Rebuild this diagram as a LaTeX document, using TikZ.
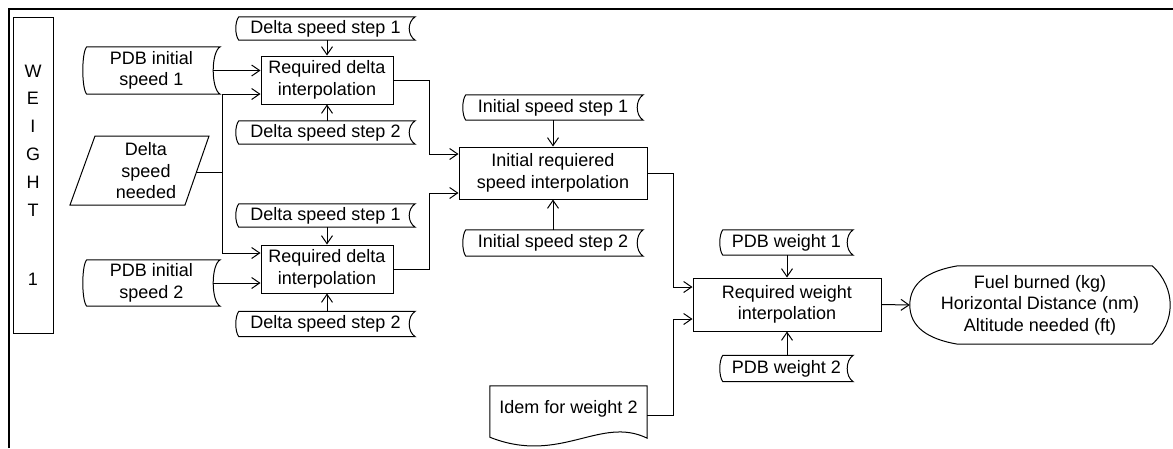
\documentclass[tikz,border=0pt]{standalone}
\usepackage{fontspec}
\setmainfont{Liberation Sans}
\usetikzlibrary{arrows.meta,calc}

% outline of a "stored data" shape round node #1, left bulge #2, right bulge #3
\newcommand\storedoutline[3]{%
  \draw[shapeline] ($(#1.north west)+(#2,0)$) -- (#1.north east)
    .. controls ($(#1.north east)+(-4*#3/3,5)$) and ($(#1.south east)+(-4*#3/3,-5)$) .. (#1.south east)
    -- ($(#1.south west)+(#2,0)$)
    .. controls ($(#1.south west)+(#2-4*#2/3,-5)$) and ($(#1.north west)+(#2-4*#2/3,5)$) .. ($(#1.north west)+(#2,0)$) -- cycle;}

\begin{document}
\begin{tikzpicture}[x=1pt,y=-1pt,
  txt/.style={font=\fontsize{18}{21.5}\selectfont, align=center, inner sep=0pt},
  procbox/.style={txt, draw, line width=1pt},
  stored/.style={txt},
  shapeline/.style={line width=1pt},
  conn/.style={line width=1pt, -{Straight Barb[length=8pt,width=11pt]}},
  link/.style={line width=1pt}]

\useasboundingbox (0,0) rectangle (1173,448);

% outer frame (top and left edges)
\draw[line width=2.5pt] (9,448) -- (9,9) -- (1173,9);

% WEIGHT 1 label
\node[procbox, font=\fontsize{18}{27.8}\selectfont, minimum width=40pt, minimum height=316pt]
  (weight) at (33,175) {W\\E\\I\\G\\H\\T\\[41.2pt]1};

% stored data shapes
\node[stored, minimum width=179pt, minimum height=23pt] (ds1a) at (325.5,28.5) {Delta speed step 1};
\storedoutline{ds1a}{3}{6}
\node[stored, minimum width=137pt, minimum height=47pt] (pdb1) at (151.5,70.5) {PDB initial\\speed 1};
\storedoutline{pdb1}{4}{7}
\node[stored, minimum width=179pt, minimum height=23pt] (ds2a) at (325.5,132.5) {Delta speed step 2};
\storedoutline{ds2a}{3}{6}
\node[stored, minimum width=179pt, minimum height=23pt] (ds1b) at (325.5,215.5) {Delta speed step 1};
\storedoutline{ds1b}{3}{6}
\node[stored, minimum width=137pt, minimum height=46pt] (pdb2) at (151.5,283) {PDB initial\\speed 2};
\storedoutline{pdb2}{4}{7}
\node[stored, minimum width=179pt, minimum height=25pt] (ds2b) at (325.5,324) {Delta speed step 2};
\storedoutline{ds2b}{3}{6}
\node[stored, minimum width=180pt, minimum height=25pt] (iss1) at (553,107.5) {Initial speed step 1};
\storedoutline{iss1}{3}{6}
\node[stored, minimum width=180pt, minimum height=26pt] (iss2) at (553,243) {Initial speed step 2};
\storedoutline{iss2}{3}{6}
\node[stored, minimum width=133pt, minimum height=25pt] (pw1) at (786.5,242.5) {PDB weight 1};
\storedoutline{pw1}{3}{6}
\node[stored, minimum width=133pt, minimum height=26pt] (pw2) at (786.5,368.5) {PDB weight 2};
\storedoutline{pw2}{3}{6}

% data input (parallelogram)
\draw[shapeline] (95,136) -- (209,136) -- (185,205) -- (70,205) -- cycle;
\node[txt] (dsn) at (146,171) {Delta\\speed\\needed};
\coordinate (dsnR) at (197,172);

% process boxes
\node[procbox, minimum width=132pt, minimum height=48pt] (box1) at (327,80) {Required delta\\interpolation};
\node[procbox, minimum width=132pt, minimum height=48pt] (box2) at (327,269) {Required delta\\interpolation};
\node[procbox, minimum width=188pt, minimum height=52pt] (box3) at (553,173) {Initial requiered\\speed interpolation};
\node[procbox, minimum width=188pt, minimum height=53pt] (box4) at (787,304.5) {Required weight\\interpolation};

% document
\node[txt, minimum width=157pt, minimum height=46pt] (idem) at (568.5,409) {Idem for weight 2};
\draw[shapeline] (idem.north west) -- (idem.north east) -- ($(idem.south east)+(0,6)$)
  .. controls ($(idem.south east)+(-47,-17)$) and ($(idem.south east)+(-87,33)$) ..
  ($(idem.south west)+(0,5)$) -- cycle;

% display / output
\node[txt, minimum width=260pt, minimum height=78pt] (out) at (1040,305)
  {Fuel burned (kg)\\Horizontal Distance (nm)\\Altitude needed (ft)};
\draw[shapeline] ($(out.north west)+(48,0)$) -- ($(out.north east)+(-18,0)$)
  .. controls ($(out.north east)+(-6,11)$) and ($(out.east)+(0,-14)$) .. (out.east)
  .. controls ($(out.east)+(0,14)$) and ($(out.south east)+(-6,-11)$) .. ($(out.south east)+(-18,0)$)
  -- ($(out.south west)+(48,0)$)
  .. controls ($(out.south west)+(18,-5)$) and ($(out.west)+(0,22)$) .. (out.west)
  .. controls ($(out.west)+(0,-22)$) and ($(out.north west)+(18,5)$) .. ($(out.north west)+(48,0)$) -- cycle;

% connectors: first delta interpolation
\draw[conn] (box1.north |- ds1a.south) -- (box1.north);
\draw[conn] (box1.south |- ds2a.north) -- (box1.south);
\draw[conn] ($(pdb1.east)+(-7,0)$) -- (pdb1.east -| box1.west);
% second delta interpolation
\draw[conn] (box2.north |- ds1b.south) -- (box2.north);
\draw[conn] (box2.south |- ds2b.north) -- (box2.south);
\draw[conn] ($(pdb2.east)+(-7,0)$) -- (pdb2.east -| box2.west);
% delta speed needed
\draw[link] (dsnR) -- ++(25,0) coordinate (jd);
\draw[conn] (jd) |- ($(box1.west)+(0,14)$);
\draw[conn] (jd) |- ($(box2.west)+(0,-16)$);
% to initial speed interpolation
\draw[conn] (box1.east) -- ++(36,0) |- ($(box3.west)+(0,-19)$);
\draw[conn] (box2.east) -- ++(36,0) |- ($(box3.west)+(0,20)$);
\draw[conn] (box3.north |- iss1.south) -- (box3.north);
\draw[conn] (box3.south |- iss2.north) -- (box3.south);
% to weight interpolation
\draw[conn] (box3.east) -- ++(26,0) |- ($(box4.west)+(0,-17.5)$);
\draw[conn] ($(idem.east)+(0,6)$) -- ++(26,0) |- ($(box4.west)+(0,14.5)$);
\draw[conn] (box4.north |- pw1.south) -- (box4.north);
\draw[conn] (box4.south |- pw2.north) -- (box4.south);
% output
\draw[conn] (box4.east) -- (out.west);
\end{tikzpicture}
\end{document}
